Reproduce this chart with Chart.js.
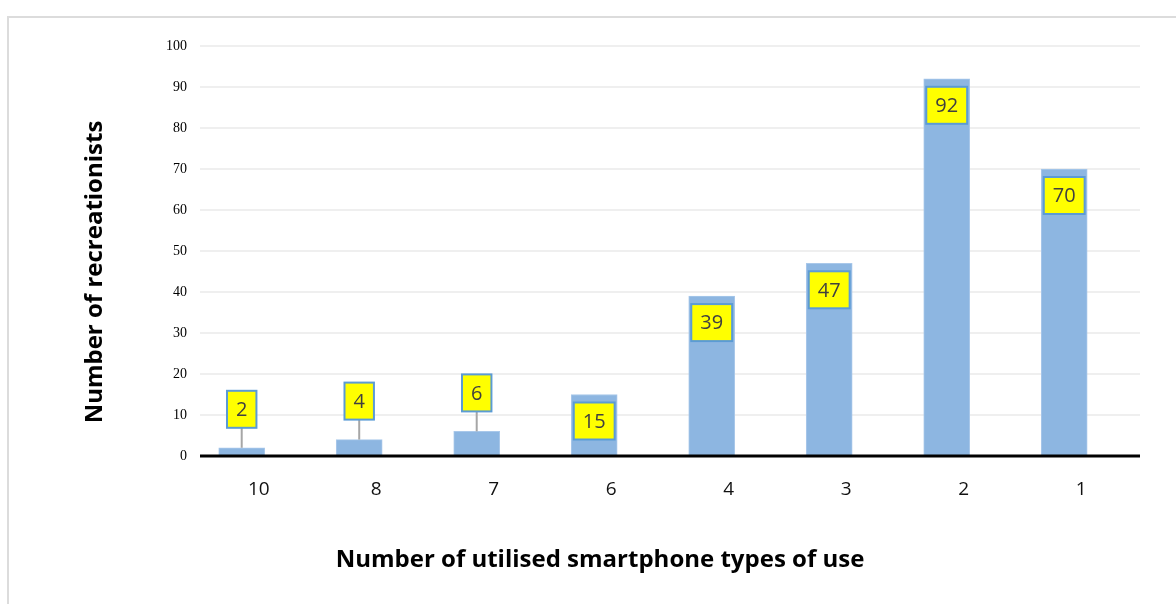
<!DOCTYPE html>
<html>
<head>
<meta charset="utf-8">
<script src="https://cdn.jsdelivr.net/npm/chart.js@4.4.1/dist/chart.umd.min.js"></script>
<style>
  html, body { margin: 0; padding: 0; background: #fff; overflow: hidden; }
  #wrap { position: relative; width: 1176px; height: 604px; }
  #frame { position: absolute; left: 7px; top: 16px; width: 1300px; height: 700px;
           border: 2px solid #dcdcdc; box-sizing: border-box; }
  canvas { position: absolute; left: 0; top: 0; }
</style>
</head>
<body>
<div id="wrap">
  <div id="frame"></div>
  <canvas id="myChart" width="1176" height="604"></canvas>
</div>
<script>
// number of types of use, and how many recreationists use that many
const typesOfUse = ['10', '8', '7', '6', '4', '3', '2', '1'];
const recreationists = [2, 4, 6, 15, 39, 47, 92, 70];
const yTicks = [0, 10, 20, 30, 40, 50, 60, 70, 80, 90, 100];

const xTitle = 'Number of utilised smartphone types of use';
const yTitle = 'Number of recreationists';

// yellow value boxes; small bars get the box above with a thin leader line
const valueBoxes = {
  id: 'valueBoxes',
  afterDatasetsDraw(chart) {
    const ctx = chart.ctx;
    const meta = chart.getDatasetMeta(0);
    ctx.save();
    ctx.font = '20px "Open Sans"';
    ctx.textAlign = 'center';
    ctx.textBaseline = 'middle';
    meta.data.forEach((bar, i) => {
      const v = recreationists[i];
      const txt = String(v);
      const w = ctx.measureText(txt).width + 18;
      const h = 37;
      let top;
      if (v >= 10) {
        top = bar.y + 8;
      } else {
        top = bar.y - 20 - h;
        ctx.strokeStyle = '#a6a6a6';
        ctx.lineWidth = 2;
        ctx.beginPath();
        ctx.moveTo(bar.x, top + h);
        ctx.lineTo(bar.x, bar.y);
        ctx.stroke();
      }
      ctx.fillStyle = '#ffff00';
      ctx.fillRect(bar.x - w / 2, top, w, h);
      ctx.strokeStyle = '#5b9bd5';
      ctx.lineWidth = 2;
      ctx.strokeRect(bar.x - w / 2, top, w, h);
      ctx.fillStyle = '#404040';
      ctx.fillText(txt, bar.x, top + h / 2 + 1);
    });

    // black base line over the bar bottoms
    const area = chart.chartArea;
    ctx.strokeStyle = '#000';
    ctx.lineWidth = 3;
    ctx.beginPath();
    ctx.moveTo(area.left, area.bottom);
    ctx.lineTo(area.right, area.bottom);
    ctx.stroke();

    // axis titles
    ctx.fillStyle = '#000';
    ctx.font = 'bold 24px "Open Sans"';
    ctx.fillText(xTitle, 600, 560);
    ctx.translate(95, 272);
    ctx.rotate(-Math.PI / 2);
    ctx.fillText(yTitle, 0, 0);
    ctx.restore();
  }
};

const ctx = document.getElementById('myChart').getContext('2d');
const myChart = new Chart(ctx, {
  type: 'bar',
  data: {
    labels: typesOfUse,
    datasets: [{
      label: 'Recreationists',
      xAxisID: 'xb',
      data: recreationists.map((v, i) => ({ x: i, y: v })),
      backgroundColor: '#8db6e1',
      borderColor: '#a9c8ea',
      borderWidth: { top: 1, left: 1, right: 1, bottom: 0 },
      barThickness: 46
    }]
  },
  options: {
    responsive: false,
    animation: false,
    layout: { padding: { top: 46, right: 36, left: 0, bottom: 0 } },
    plugins: {
      legend: { display: false },
      tooltip: { enabled: false }
    },
    scales: {
      x: {
        type: 'category',
        offset: true,
        grid: { display: false },
        border: { display: false },
        ticks: {
          color: '#111',
          font: { family: '"Open Sans"', size: 19 },
          padding: 14
        },
        afterFit(scale) { scale.height = 148; }
      },
      // bars sit a little left of their category labels
      xb: {
        type: 'linear',
        display: false,
        min: -0.355,
        max: 7.645,
        offset: false
      },
      y: {
        min: 0,
        max: 100,
        afterBuildTicks(scale) { scale.ticks = yTicks.map(v => ({ value: v })); },
        grid: { color: '#efefef', lineWidth: 2, drawTicks: false },
        border: { display: false },
        ticks: {
          color: '#000',
          font: { family: '"Liberation Serif"', size: 14 },
          padding: 13
        },
        afterFit(scale) { scale.width = 200; }
      }
    }
  },
  plugins: [valueBoxes]
});
</script>
</body>
</html>
